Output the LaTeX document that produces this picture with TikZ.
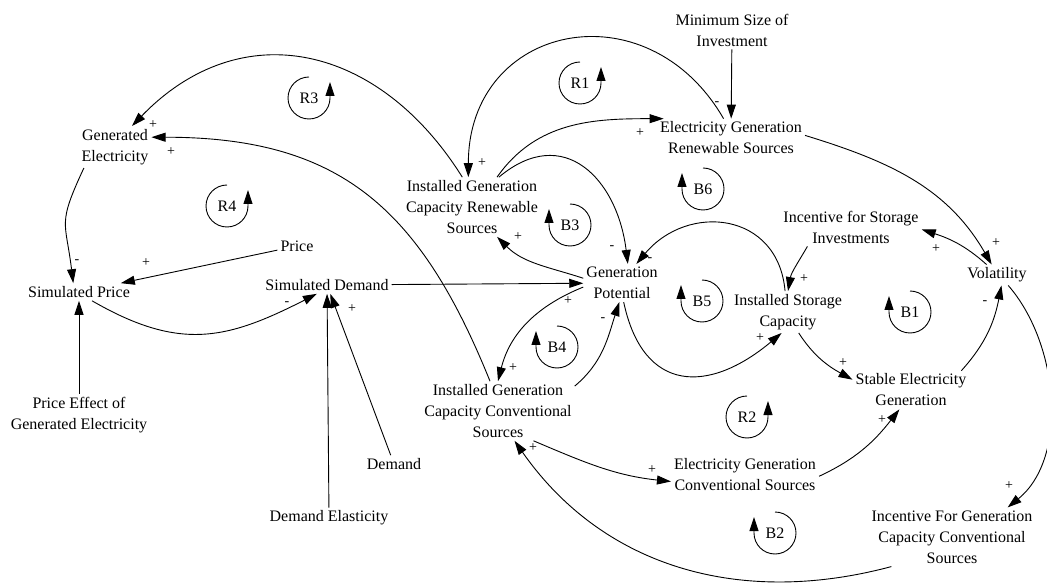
\documentclass[tikz,border=0pt]{standalone}
\usepackage{fontspec}
\setmainfont{Liberation Serif}
\usetikzlibrary{arrows.meta}

\begin{document}
\begin{tikzpicture}[x=1pt,y=1pt,font=\fontsize{16}{21}\selectfont,
    % styles
    var/.style={align=center,inner sep=3pt},
    link/.style={-{Triangle[length=14pt,width=9pt]},line width=0.9pt},
    sign/.style={font=\fontsize{14}{14}\selectfont,inner sep=0pt},
    loop label/.style={inner sep=0pt},
    loop line/.style={-{Triangle[length=14pt,width=9pt]},line width=0.9pt}]

  \useasboundingbox (0,0) rectangle (1047,-585);

  % variables
  \node[var] (GE) at (115,-147) {Generated\\Electricity};
  \node[var] (SP) at (79,-292) {Simulated Price};
  \node[var] (Price) at (297,-246) {Price};
  \node[var] (SD) at (327,-285) {Simulated Demand};
  \node[var] (PE) at (79,-415) {Price Effect of\\Generated Electricity};
  \node[var] (DE) at (329,-518) {Demand Elasticity};
  \node[var] (Dem) at (394,-464) {Demand};
  \node[var] (IGCR) at (472,-207) {Installed Generation\\Capacity Renewable\\Sources};
  \node[var] (EGR) at (731,-138) {Electricity Generation\\Renewable Sources};
  \node[var] (MinSize) at (732,-30) {Minimum Size of\\Investment};
  \node[var] (GP) at (622,-283) {Generation\\Potential};
  \node[var] (ISC) at (788,-312) {Installed Storage\\Capacity};
  \node[var] (ISI) at (851,-227) {Incentive for Storage\\Investments};
  \node[var] (Vol) at (997,-275) {Volatility};
  \node[var] (SEG) at (911,-390) {Stable Electricity\\Generation};
  \node[var] (IGCC) at (498,-411) {Installed Generation\\Capacity Conventional\\Sources};
  \node[var] (EGC) at (745,-475) {Electricity Generation\\Conventional Sources};
  \node[var] (IGCCS) at (952,-537) {Incentive For Generation\\Capacity Conventional\\Sources};

  % straight links
  \draw[link] (Price) -- (SP);
  \draw[link] (PE) -- (SP);
  \draw[link] (DE) -- (SD);
  \draw[link] (Dem) -- (SD);
  \draw[link] (SD) -- (GP);
  \draw[link] (MinSize) -- (EGR);

  % curved links
  \draw[link] (IGCR.108) to[out=122,in=46,looseness=1.2] (GE.51);
  \draw[link] (IGCC.105) to[out=112,in=0,looseness=1.15] (GE.15);
  \draw[link] (GE.214) to[out=245,in=97,looseness=1.4] (SP.123);
  \draw[link] (SP.326) to[out=330,in=207,looseness=1.15] (SD.221);
  \draw[link] (EGR.111) to[out=120,in=90,looseness=1.5] (IGCR.97);
  \draw[link] (IGCR.50) to[out=55,in=180] (EGR.164);
  \draw[link] (IGCR.48) to[out=40,in=97,looseness=1.4] (GP.73);
  \draw[link] (ISC.98) to[out=95,in=50,looseness=1.35] (GP.53);
  \draw[link] (ISI.204) to[out=240,in=80] (ISC.90);
  \draw[link] (GP.173) to[out=162,in=315] (IGCR.310);
  \draw[link] (GP.186) to[out=202,in=76] (IGCC.90);
  \draw[link] (IGCC.18) to[out=40,in=252] (GP.262);
  \draw[link] (GP.275) to[out=282,in=220,looseness=1.5] (ISC.253);
  \draw[link] (ISC.297) to[out=303,in=151] (SEG.170);
  \draw[link] (SEG.21) to[out=48,in=259] (Vol.293);
  \draw[link] (Vol.135) to[out=138,in=342] (ISI.358);
  \draw[link] (EGR.2) to[out=343,in=120] (Vol.117);
  \draw[link] (Vol.317) to[out=311,in=39,looseness=0.9] (IGCCS.28);
  \draw[link] (IGCCS.206) to[out=195,in=305] (IGCC.299);
  \draw[link] (IGCC.320) to[out=337,in=174] (EGC.185);
  \draw[link] (EGC.359) to[out=25,in=232] (SEG.239);

  % polarities
  \foreach \x/\y/\s [count=\i] in {153/125/+,171/152/+,77/262/-,146/263/+,
      287/304/-,352/309/+,568/301/+,482/163/+,717/104/-,640/133/+,
      612/248/-,650/260/-,804/279/+,518/237/+,513/368/+,603/320/-,
      760/338/+,843/363/+,985/303/-,936/249/+,996/243/+,1009/486/+,
      533/448/+,652/470/+,882/420/+}
    \node[sign] (s\i) at (\x,-\y) {\s};

  % loops
  \foreach \n/\x/\y in {R1/580/83,R2/747/417,R3/309/98,R4/227/206}
  {
    \node[loop label] (\n) at (\x,-\y) {\n};
    \draw[loop line] (\n.center) ++(0,21)
      arc[start angle=90,end angle=360,radius=21] -- ++(0,16);
  }
  \foreach \n/\x/\y in {B1/910/312,B2/775/533,B3/570/225,B4/557/347,
      B5/702/301,B6/703/189}
  {
    \node[loop label] (\n) at (\x,-\y) {\n};
    \draw[loop line] (\n.center) ++(0,21)
      arc[start angle=90,end angle=-180,radius=21] -- ++(0,16);
  }
\end{tikzpicture}
\end{document}
